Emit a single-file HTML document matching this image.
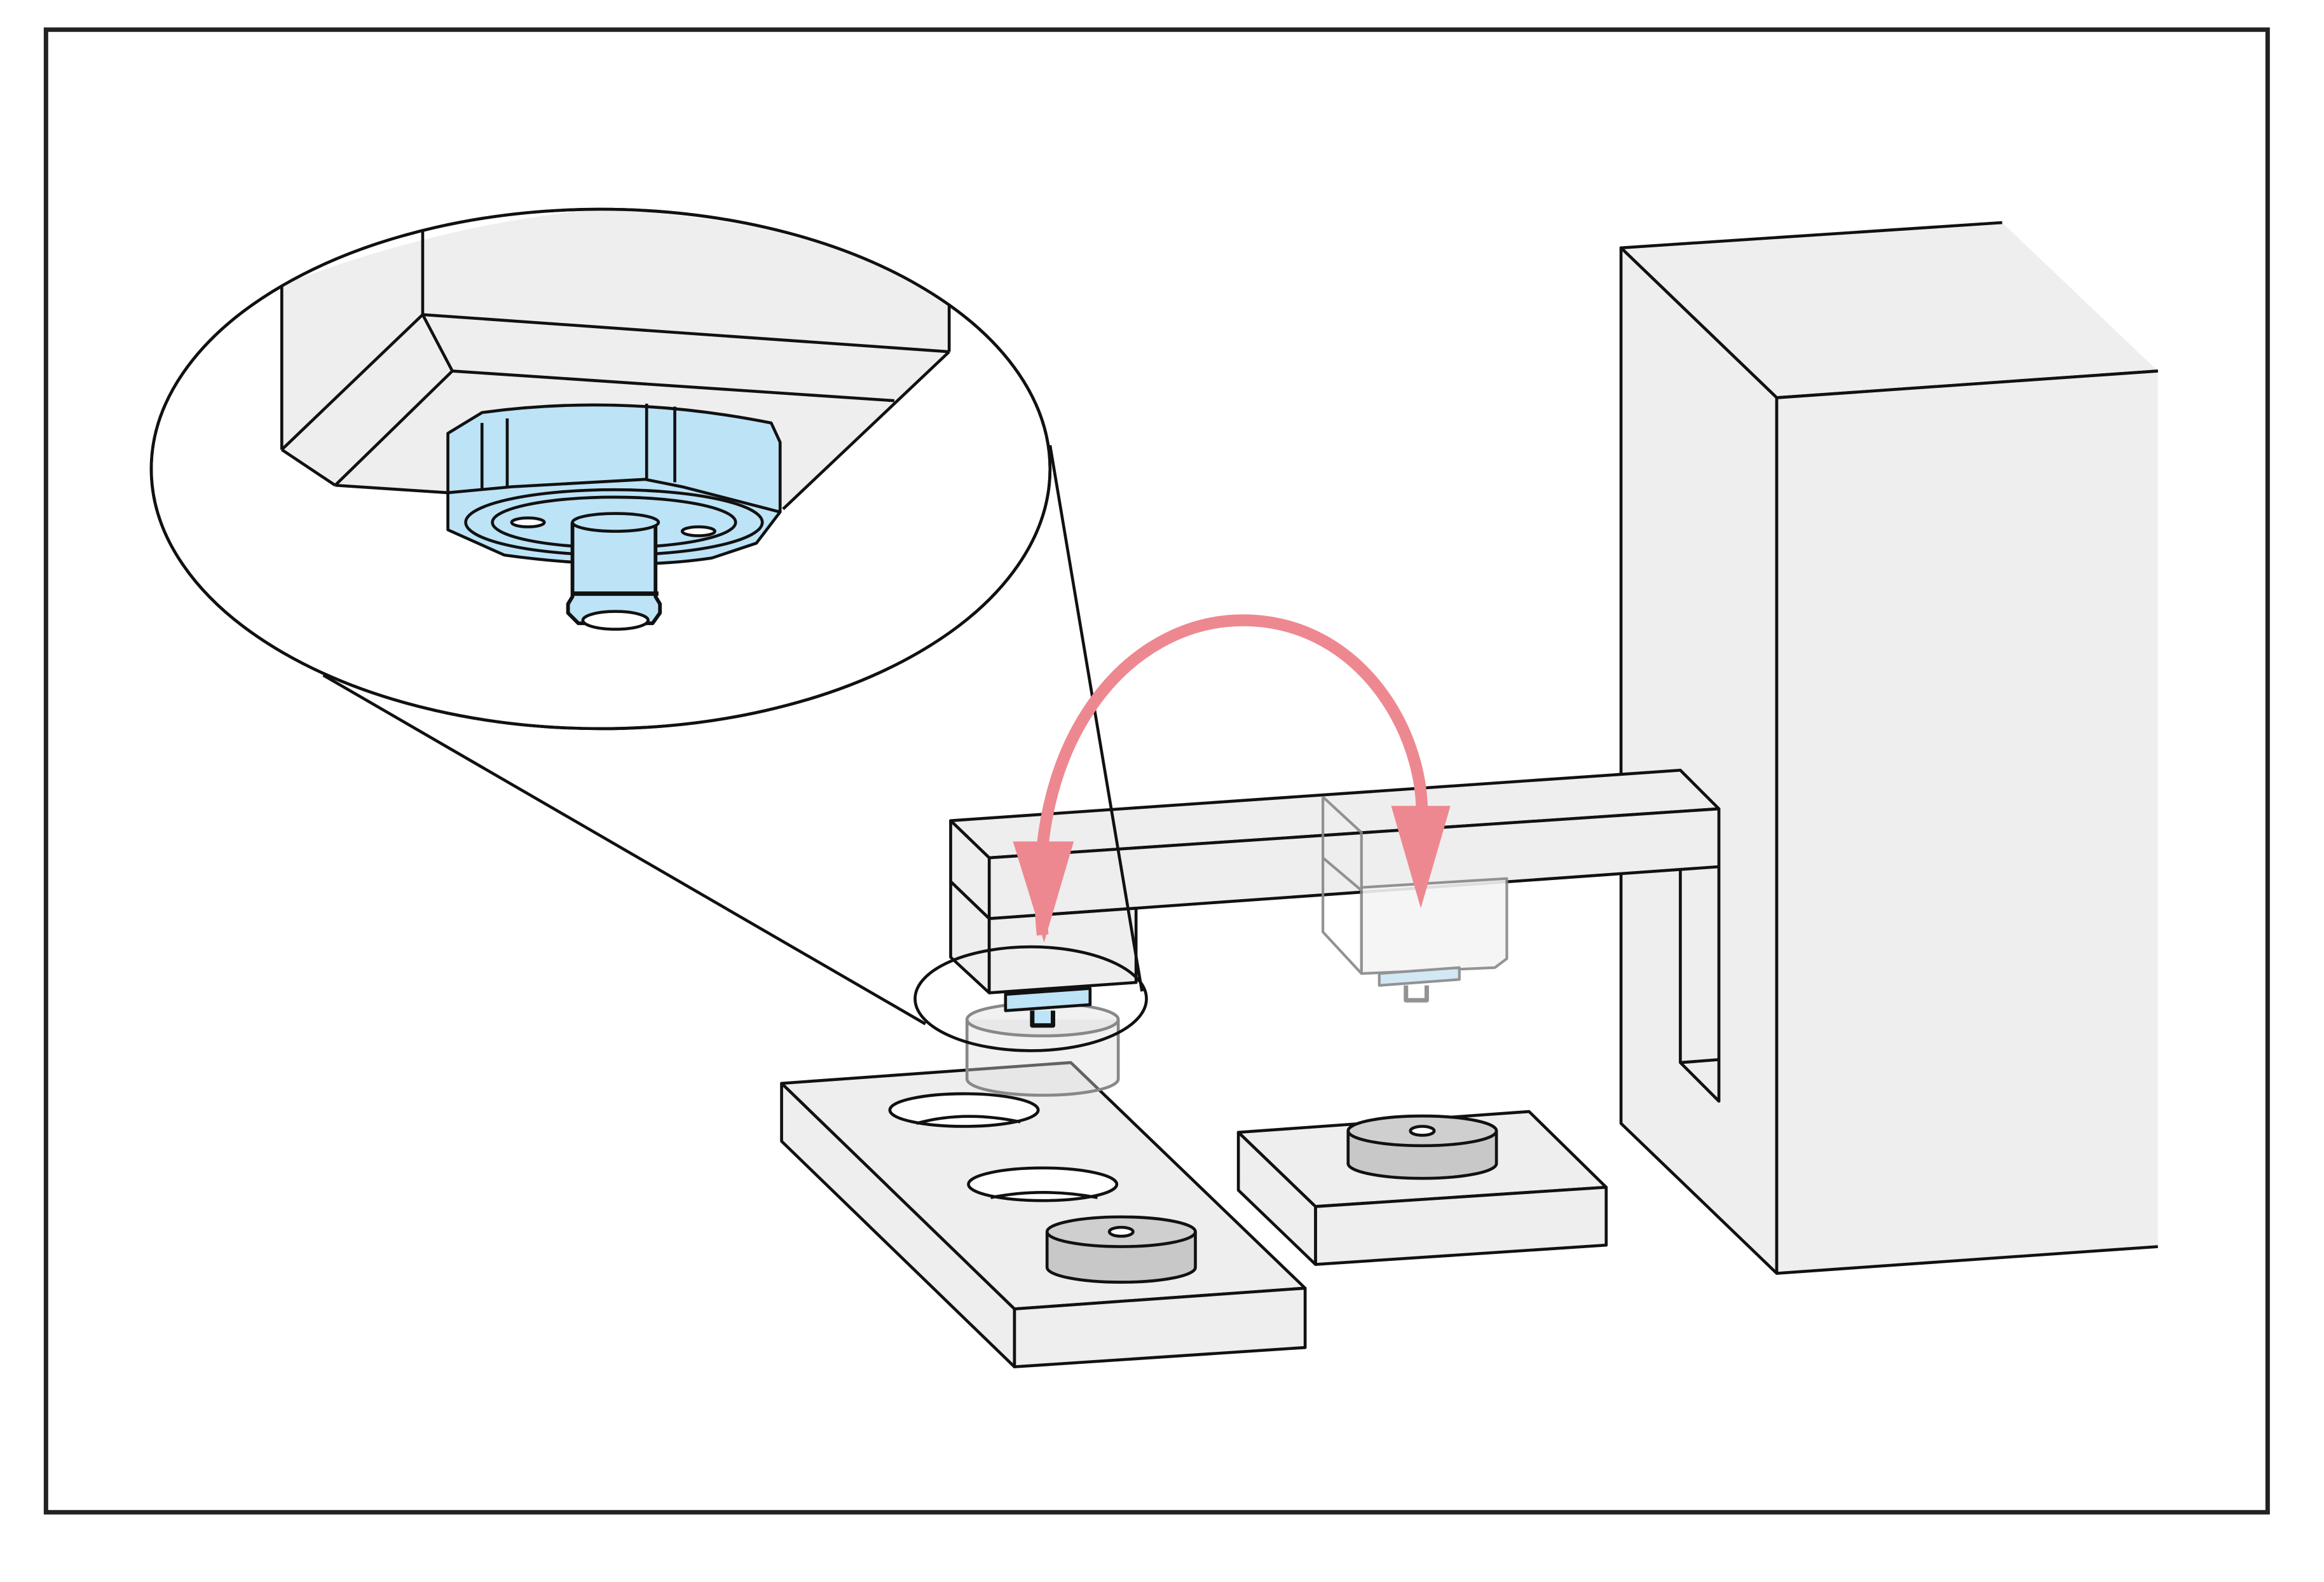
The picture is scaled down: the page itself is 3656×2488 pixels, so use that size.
<!DOCTYPE html>
<html><head><meta charset="utf-8"><style>html,body{margin:0;padding:0;background:#fff}svg{display:block}</style></head>
<body>
<svg width="3656" height="2488" viewBox="0 0 1567 1066" preserveAspectRatio="none" xmlns="http://www.w3.org/2000/svg">
<rect x="0" y="0" width="1567" height="1066" fill="#fff"/>
<rect x="31" y="20" width="1498" height="999" fill="none" stroke="#222" stroke-width="3"/>
<g stroke="#111" stroke-width="2" stroke-linejoin="round" fill="#eee">
<polygon points="1093,167 1350,150 1455,250 1198,268" stroke="none"/>
<polyline points="1455,250 1198,268 1093,167 1350,150" fill="none"/>
<polygon points="1093,167 1198,268 1198,858 1093,757"/>
<polygon points="1198,268 1455,250 1455,840 1198,858" stroke="none"/>
<polyline points="1455,250 1198,268 1198,858 1455,840" fill="none"/>
<polygon points="1133,584 1159,584 1159,742 1133,716" fill="#eee"/>
<line x1="1133" y1="716" x2="1159" y2="714"/>
<polygon points="641,553 1133,519 1159,545 667,578"/>
<polygon points="667,578 1159,545 1159,584 667,619"/>
<polygon points="641,553 667,578 667,619 641,594"/>
<polygon points="641,594 667,619 667,669 641,645"/>
<polygon points="667,619 766,612 766,662 667,669"/>
<g stroke="#888" stroke-width="1.8" fill="#f5f5f5" opacity="0.9">
<polygon points="918,598 1016,592 1016,646 1008,652 918,656"/>
<polyline points="892,537 918,561 918,656 892,628 892,537" fill="none"/>
<line x1="892" y1="578" x2="918" y2="600"/>
<path d="M930,656 L984,652 L984,660 L930,664Z" fill="#cfe6f5"/>
<path d="M948,664 v10 h14 v-10" fill="none" stroke-width="3"/>
</g>
<polygon points="527,730 722,716 880,868 684,882"/>
<polygon points="684,882 880,868 880,908 684,921"/>
<polygon points="527,730 684,882 684,921 527,769"/>
<ellipse cx="650" cy="748" rx="50" ry="11" fill="#fff"/>
<path d="M618,757 Q650,748 688,756" fill="none"/>
<ellipse cx="703" cy="798" rx="50" ry="11" fill="#fff"/>
<path d="M668,807 Q703,800 740,807" fill="none"/>
<path d="M706,830 v24 a50,10 0 0 0 100,0 v-24" fill="#c8c8c8"/>
<ellipse cx="756" cy="830" rx="50" ry="10" fill="#cfcfcf"/>
<ellipse cx="756" cy="830" rx="8" ry="3" fill="#fff"/>
<polygon points="835,763 1031,749 1083,800 887,813"/>
<polygon points="887,813 1083,800 1083,839 887,852"/>
<polygon points="835,763 887,813 887,852 835,802"/>
<path d="M909,762 v22 a50,10 0 0 0 100,0 v-22" fill="#c8c8c8"/>
<ellipse cx="959" cy="762" rx="50" ry="10" fill="#cfcfcf"/>
<ellipse cx="959" cy="762" rx="8" ry="3" fill="#fff"/>
<g stroke="#888" fill="#ddd" fill-opacity="0.4">
<path d="M652,687 v40 a51,11 0 0 0 102,0 v-40"/>
<ellipse cx="703" cy="687" rx="51" ry="11"/>
</g>
<path d="M678,670 L735,666 L735,677 L678,681Z" fill="#bde3f7"/>
<path d="M696,681 v10 h14 v-10" fill="#bde3f7" stroke-width="3"/>
<ellipse cx="695" cy="673" rx="78" ry="35" fill="none"/>
<line x1="218" y1="455" x2="624" y2="690"/>
<line x1="708" y1="300" x2="770" y2="668"/>
<ellipse cx="405" cy="316" rx="303" ry="175" fill="#fff"/>
<path d="M190,192 Q300,150 405,141 Q560,148 640,205 L640,237 L528,343 L302,332 L226,327 L190,303Z" fill="#eee" stroke="none"/>
<line x1="190" y1="192" x2="190" y2="303"/>
<line x1="285" y1="155" x2="285" y2="212"/>
<line x1="285" y1="212" x2="640" y2="237"/>
<line x1="640" y1="205" x2="640" y2="237"/>
<line x1="285" y1="212" x2="190" y2="303"/>
<line x1="285" y1="212" x2="305" y2="250"/>
<line x1="305" y1="250" x2="603" y2="270"/>
<line x1="305" y1="250" x2="226" y2="327"/>
<line x1="190" y1="303" x2="226" y2="327"/>
<line x1="226" y1="327" x2="302" y2="332"/>
<line x1="640" y1="237" x2="528" y2="343"/>
<ellipse cx="405" cy="316" rx="303" ry="175" fill="none"/>
<path d="M302,292 L325,278 Q420,265 520,285 L526,298 L526,345 L510,366 L480,376 Q420,385 340,374 L302,357Z" fill="#bde3f7"/>
<path d="M302,332 L345,328 L435,323 L460,328 L526,345" fill="none"/>
<line x1="325" y1="285" x2="325" y2="330"/>
<line x1="342" y1="282" x2="342" y2="328"/>
<line x1="436" y1="272" x2="436" y2="323"/>
<line x1="455" y1="274" x2="455" y2="325"/>
<ellipse cx="414" cy="352" rx="100" ry="22" fill="#bde3f7"/>
<ellipse cx="414" cy="352" rx="82" ry="17" fill="#bde3f7"/>
<ellipse cx="356" cy="352" rx="11" ry="3" fill="#fff"/>
<ellipse cx="471" cy="358" rx="11" ry="3" fill="#fff"/>
<path d="M386,352 v50 l-3,5 v6 l7,7 h50 l5,-7 v-6 l-3,-5 v-50" fill="#bde3f7" stroke-width="2.5"/>
<ellipse cx="415" cy="352" rx="29" ry="6" fill="#bde3f7"/>
<ellipse cx="415" cy="418" rx="22" ry="6" fill="#fff"/>
<line x1="386" y1="400" x2="444" y2="400" stroke-width="3"/>
</g>
<path d="M703,630 C690,500 760,418 838,418 C920,418 965,500 958,560" fill="none" stroke="#ee8890" stroke-width="8"/>
<polygon points="683,567 724,567 704,635" fill="#ee8890"/>
<polygon points="938,543 978,543 958,612" fill="#ee8890"/>
</svg>
</body></html>
